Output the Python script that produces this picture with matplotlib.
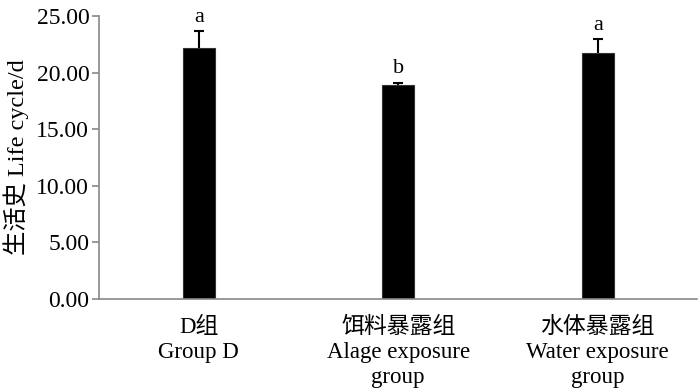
import numpy as np
import matplotlib.pyplot as plt

plt.rcParams['font.family'] = ['Liberation Serif', 'Noto Sans CJK SC']

groups = ['D组\nGroup D', '饵料暴露组\nAlage exposure\ngroup', '水体暴露组\nWater exposure\ngroup']
means = [22.2, 18.9, 21.7]
errs = [1.45, 0.22, 1.25]
letters = ['a', 'b', 'a']

fig = plt.figure(figsize=(7, 3.92), dpi=100)
ax = fig.add_axes([0.1414, 0.237, 0.855, 0.722])

x = np.arange(len(groups))
ax.bar(x, means, width=0.16, color='black', edgecolor='#333333', linewidth=0.8)
eb = ax.errorbar(x, means, yerr=[[0] * len(errs), errs], fmt='none',
                 ecolor='black', elinewidth=1.5, capsize=3.5, capthick=1.5)
# hide the lower caps sitting on the bar tops
eb[1][0].set_visible(False)

for xi, m, e, t in zip(x, means, errs, letters):
    ax.text(xi, m + e + 0.4, t, ha='center', va='bottom', fontsize=16)

ax.set_xlim(-0.5, 2.5)
ax.set_ylim(0, 25)
ax.set_yticks(np.arange(0, 26, 5))
ax.set_yticklabels(['%.2f' % v for v in np.arange(0, 26, 5)], fontsize=17)
ax.set_xticks(x)
ax.set_xticklabels(groups, fontsize=16.5, linespacing=1.25)
ax.tick_params(axis='x', length=0, pad=13)
ax.tick_params(axis='y', length=5, color='#888888', width=1.2, pad=2)

for s in ['top', 'right']:
    ax.spines[s].set_visible(False)
for s in ['left', 'bottom']:
    ax.spines[s].set_color('#888888')
    ax.spines[s].set_linewidth(1.2)

ax.set_ylabel('生活史 Life cycle/d', fontsize=17.5, labelpad=5)

fig.savefig('out.png')
